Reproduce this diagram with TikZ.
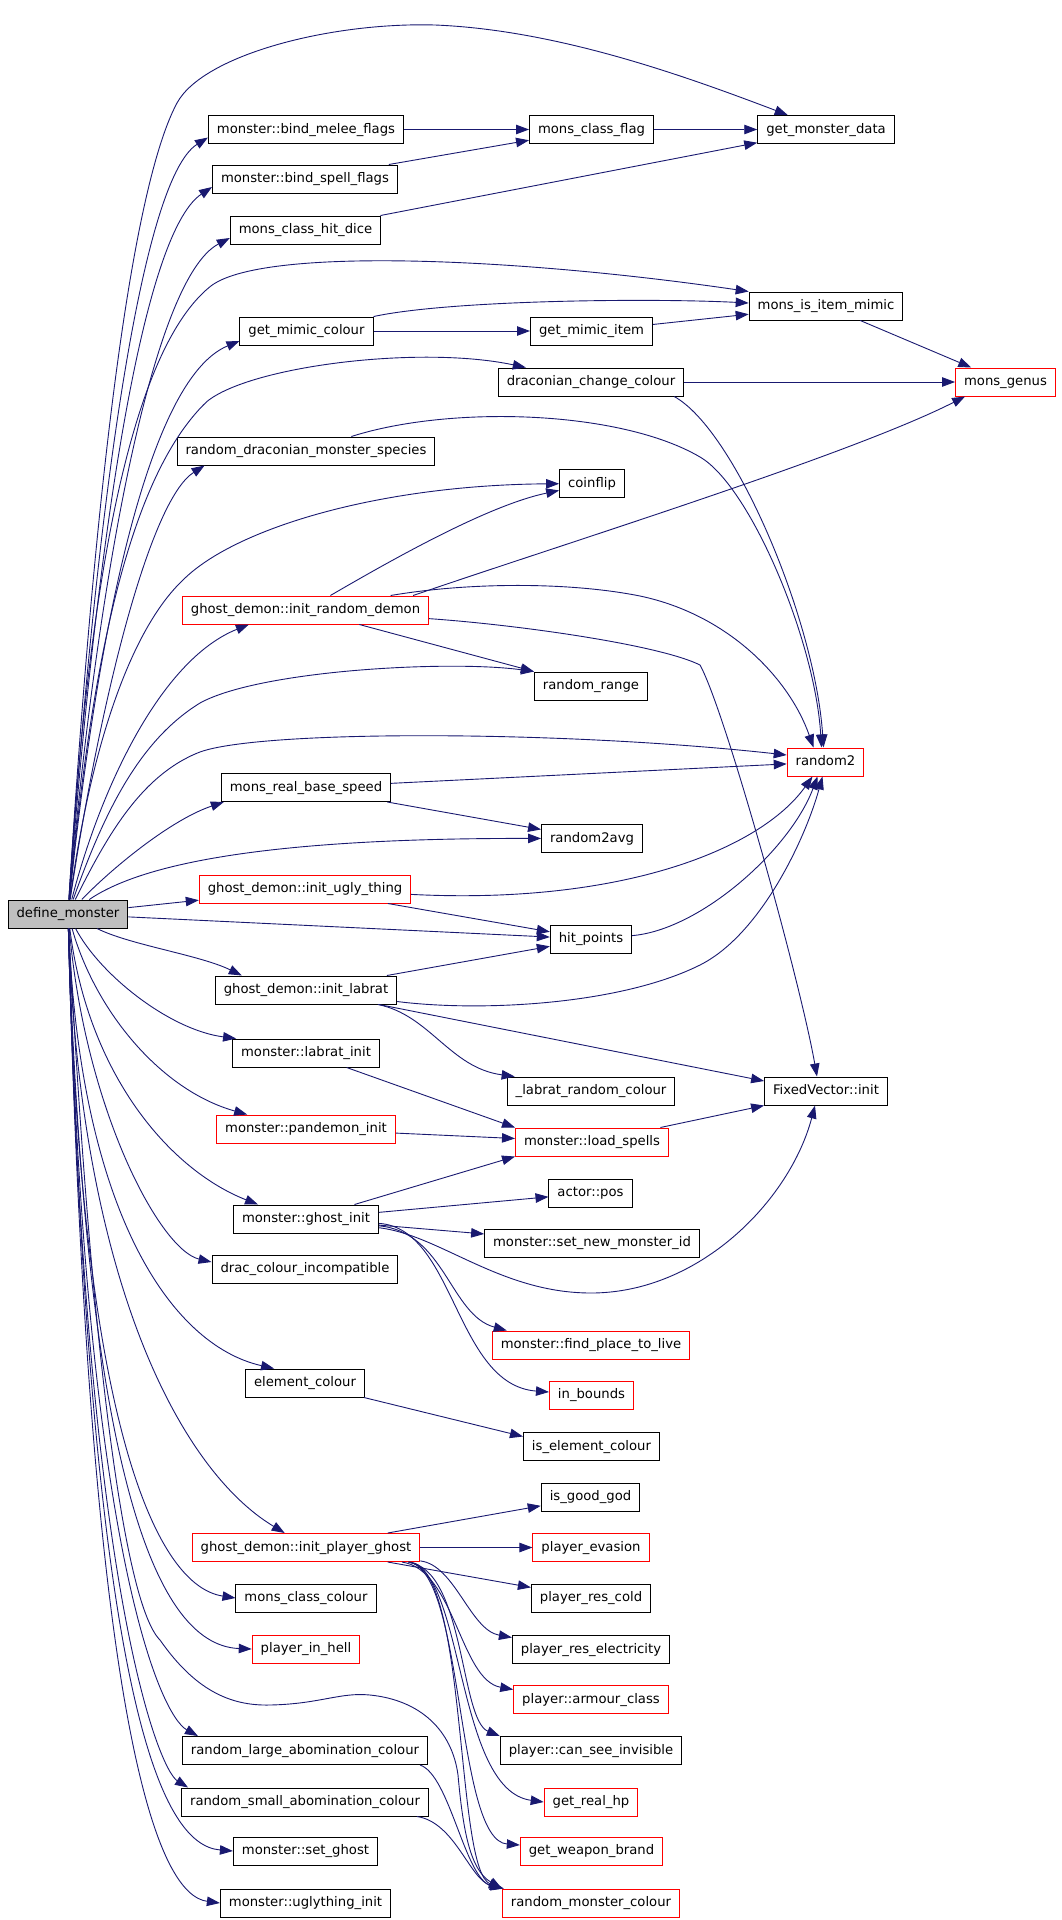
\documentclass[tikz,border=0pt]{standalone}
\usepackage{fontspec}
\newfontfamily\graphfont{DejaVu Sans}
\usepackage{tikz}
\usetikzlibrary{arrows.meta}
\definecolor{edgeblue}{HTML}{191970}
\definecolor{rootgrey}{HTML}{BFBFBF}
\tikzset{
    fn/.style={draw=black, line width=1pt, minimum height=28pt, inner xsep=8.5pt, inner ysep=0pt,
        text height=10pt, text depth=3pt, font=\graphfont\fontsize{13.2pt}{15pt}\selectfont},
    fnext/.style={fn, draw=red},
    fnroot/.style={fn, fill=rootgrey},
    callarrow/.style={draw=edgeblue, line width=0.9pt, -{Triangle[length=13pt,width=9.5pt]}}
}
\begin{document}
\begin{tikzpicture}[x=1pt,y=-1pt]
	\useasboundingbox (0,0) rectangle (1061,1920);
	\node[fnroot] (dm) at (68,914) {define\_monster};
	% first column
	\node[fn] (bm) at (306,129.5) {monster::bind\_melee\_flags};
	\node[fn] (bs) at (305,179) {monster::bind\_spell\_flags};
	\node[fn] (hd) at (305.5,230) {mons\_class\_hit\_dice};
	\node[fn] (gmc) at (306.5,331) {get\_mimic\_colour};
	\node[fn] (rdms) at (306,451) {random\_draconian\_monster\_species};
	\node[fnext] (ird) at (305.5,610) {ghost\_demon::init\_random\_demon};
	\node[fn] (mrbs) at (306,787.5) {mons\_real\_base\_speed};
	\node[fnext] (iut) at (305,889) {ghost\_demon::init\_ugly\_thing};
	\node[fn] (ilr) at (306,990) {ghost\_demon::init\_labrat};
	\node[fn] (lbi) at (306,1053) {monster::labrat\_init};
	\node[fnext] (pdi) at (306,1129) {monster::pandemon\_init};
	\node[fn] (gi) at (306,1219) {monster::ghost\_init};
	\node[fn] (dci) at (305,1269) {drac\_colour\_incompatible};
	\node[fn] (ec) at (305,1383) {element\_colour};
	\node[fnext] (ipg) at (306,1547.5) {ghost\_demon::init\_player\_ghost};
	\node[fn] (mcc) at (306,1598) {mons\_class\_colour};
	\node[fnext] (pih) at (306,1649) {player\_in\_hell};
	\node[fn] (rla) at (305,1750.5) {random\_large\_abomination\_colour};
	\node[fn] (rsa) at (305,1802) {random\_small\_abomination\_colour};
	\node[fn] (sg) at (305.5,1851) {monster::set\_ghost};
	\node[fn] (ugi) at (305.5,1903) {monster::uglything\_init};
	% second column
	\node[fn] (mcf) at (591.5,129.5) {mons\_class\_flag};
	\node[fn] (gmi) at (591.5,331) {get\_mimic\_item};
	\node[fn] (dcc) at (591,382) {draconian\_change\_colour};
	\node[fn] (cf) at (592,483.5) {coinflip};
	\node[fn] (rr) at (591,686) {random\_range};
	\node[fn] (r2a) at (592,838.5) {random2avg};
	\node[fn] (hp) at (591,939) {hit\_points};
	\node[fn] (lrc) at (591,1091) {\_labrat\_random\_colour};
	\node[fnext] (ls) at (592,1142) {monster::load\_spells};
	\node[fn] (pos) at (590.5,1193) {actor::pos};
	\node[fn] (snm) at (592,1243) {monster::set\_new\_monster\_id};
	\node[fnext] (fpl) at (591,1345) {monster::find\_place\_to\_live};
	\node[fnext] (ib) at (591.5,1395) {in\_bounds};
	\node[fn] (iec) at (591.5,1446.5) {is\_element\_colour};
	\node[fn] (igg) at (590.5,1497) {is\_good\_god};
	\node[fnext] (pe) at (591,1547.5) {player\_evasion};
	\node[fn] (prc) at (591,1598) {player\_res\_cold};
	\node[fn] (pre) at (591,1649.5) {player\_res\_electricity};
	\node[fnext] (pac) at (591,1699.5) {player::armour\_class};
	\node[fn] (csi) at (591,1750.5) {player::can\_see\_invisible};
	\node[fnext] (grh) at (591,1802) {get\_real\_hp};
	\node[fnext] (gwb) at (591.5,1851) {get\_weapon\_brand};
	\node[fnext] (rmc) at (591,1903) {random\_monster\_colour};
	% third and fourth column
	\node[fn] (gmd) at (826,129.5) {get\_monster\_data};
	\node[fn] (mim) at (826,306) {mons\_is\_item\_mimic};
	\node[fnext] (r2) at (825.5,762) {random2};
	\node[fn] (fv) at (826,1091) {FixedVector::init};
	\node[fnext] (mg) at (1005.5,382) {mons\_genus};

	% calls going up from define_monster
	\draw[callarrow] (dm) .. controls (90,560) and (125,200) .. (177,103) .. controls (203,55) and (330,22) .. (435,25) .. controls (560,30) and (690,78) .. (gmd);
	\draw[callarrow] (dm) .. controls (95,520) and (140,180) .. ([yshift=-8pt]bm.west);
	\draw[callarrow] (dm) .. controls (95,560) and (140,235) .. ([yshift=-8pt]bs.west);
	\draw[callarrow] (dm) .. controls (95,600) and (150,280) .. ([yshift=-8pt]hd.west);
	\draw[callarrow] (dm) .. controls (85,640) and (120,360) .. (210,286.7) .. controls (260,246) and (520,258) .. (mim.north west);
	\draw[callarrow] (dm) .. controls (95,650) and (145,380) .. ([yshift=-10pt]gmc.west);
	\draw[callarrow] (dm) .. controls (90,680) and (125,480) .. (206.7,401.7) .. controls (250,366) and (420,345) .. ([xshift=28pt]dcc.north west);
	\draw[callarrow] (dm) .. controls (100,700) and (150,500) .. ([xshift=28pt]rdms.south west);
	\draw[callarrow] (dm) .. controls (90,750) and (130,630) .. (183,580) .. controls (235,528) and (380,485) .. (cf);
	\draw[callarrow] (dm) .. controls (100,790) and (160,660) .. ([xshift=67pt]ird.south west);
	\draw[callarrow] (dm) .. controls (105,810) and (140,740) .. (200,703) .. controls (260,670) and (450,660) .. (rr.north west);
	\draw[callarrow] (dm) .. controls (105,840) and (140,775) .. (200,752) .. controls (260,730) and (560,730) .. ([yshift=7pt]r2.west);
	\draw[callarrow] (dm) .. controls (110,870) and (170,820) .. ([xshift=3pt]mrbs.south west);
	\draw[callarrow] (dm) .. controls (140,865) and (260,838) .. (r2a);
	\draw[callarrow] (dm) -- (iut);
	\draw[callarrow] (dm) -- (hp);
	% calls going down from define_monster
	\draw[callarrow] (dm) .. controls (130,945) and (200,955) .. ([xshift=27pt]ilr.north west);
	\draw[callarrow] (dm) .. controls (100,975) and (170,1030) .. ([xshift=4pt]lbi.north west);
	\draw[callarrow] (dm) .. controls (95,1010) and (160,1090) .. ([xshift=31pt]pdi.north west);
	\draw[callarrow] (dm) .. controls (88,1075) and (170,1170) .. ([xshift=25pt]gi.north west);
	\draw[callarrow] (dm) .. controls (85,1110) and (160,1250) .. ([yshift=7pt]dci.west);
	\draw[callarrow] (dm) .. controls (80,1210) and (170,1345) .. ([xshift=29pt]ec.north west);
	\draw[callarrow] (dm) .. controls (80,1280) and (180,1470) .. ([xshift=93pt]ipg.north west);
	\draw[callarrow] (dm) .. controls (80,1400) and (150,1585) .. (mcc.west);
	\draw[callarrow] (dm) .. controls (85,1450) and (150,1645) .. (pih.west);
	\draw[callarrow] (dm) .. controls (88,1300) and (120,1600) .. (160,1640) .. controls (195,1690) and (230,1706) .. (270,1705) .. controls (320,1704) and (340,1692) .. (370,1695) .. controls (420,1700) and (452,1730) .. (458,1775) .. controls (463,1830) and (470,1870) .. (rmc.north west);
	\draw[callarrow] (dm) .. controls (85,1550) and (160,1715) .. ([xshift=16pt]rla.north west);
	\draw[callarrow] (dm) .. controls (85,1600) and (160,1770) .. ([xshift=7pt]rsa.north west);
	\draw[callarrow] (dm) .. controls (90,1700) and (160,1845) .. (sg.west);
	\draw[callarrow] (dm) .. controls (90,1750) and (160,1895) .. (ugi.west);

	\draw[callarrow] (bm) -- (mcf);
	\draw[callarrow] (bs) -- (mcf);
	\draw[callarrow] (mcf) -- (gmd);
	\draw[callarrow] (hd) -- (gmd);
	\draw[callarrow] (gmc) .. controls (450,300) and (650,298) .. ([yshift=3pt]mim.west);
	\draw[callarrow] (gmc) -- (gmi);
	\draw[callarrow] (gmi) -- (mim);
	\draw[callarrow] (mim) -- (mg);
	\draw[callarrow] (dcc) -- (mg);
	\draw[callarrow] ([xshift=-10pt]dcc.south east) .. controls (735,430) and (815,620) .. ([xshift=-2pt]r2.north);
	\draw[callarrow] (rdms) .. controls (450,405) and (620,410) .. (700,457) .. controls (750,486) and (815,640) .. ([xshift=-4pt]r2.north);
	\draw[callarrow] (ird) .. controls (400,555) and (490,505) .. (cf);
	\draw[callarrow] ([xshift=-16pt]ird.north east) .. controls (560,545) and (850,455) .. ([xshift=10pt]mg.south west);
	\draw[callarrow] (ird) .. controls (470,582) and (570,582) .. (640,596) .. controls (730,615) and (790,680) .. ([xshift=-12pt]r2.north);
	\draw[callarrow] (ird) -- (rr.north west);
	\draw[callarrow] (ird) .. controls (520,625) and (660,645) .. (700,665) .. controls (725,710) and (800,980) .. ([xshift=-9pt]fv.north);
	\draw[callarrow] (mrbs) -- (r2);
	\draw[callarrow] (mrbs) -- (r2a);
	\draw[callarrow] (iut) .. controls (620,905) and (760,850) .. ([xshift=-13pt]r2.south);
	\draw[callarrow] (iut) -- (hp);
	\draw[callarrow] (hp) .. controls (700,930) and (790,850) .. ([xshift=-8pt]r2.south);
	\draw[callarrow] (ilr) -- (hp);
	\draw[callarrow] (ilr) .. controls (480,1012) and (620,1005) .. (700,965) .. controls (760,935) and (805,840) .. ([xshift=-3pt]r2.south);
	\draw[callarrow] (ilr) .. controls (430,1015) and (450,1068) .. ([xshift=8pt]lrc.north west);
	\draw[callarrow] (ilr) -- ([yshift=10pt]fv.west);
	\draw[callarrow] (lbi) -- (ls.north west);
	\draw[callarrow] (pdi) -- (ls);
	\draw[callarrow] (gi) -- (ls.south west);
	\draw[callarrow] (ls) -- (fv.south west);
	\draw[callarrow] (gi) -- (pos);
	\draw[callarrow] (gi) -- (snm);
	\draw[callarrow] (gi) .. controls (440,1235) and (500,1293) .. (591,1293) .. controls (700,1293) and (790,1200) .. ([xshift=-11pt]fv.south);
	\draw[callarrow] (gi) .. controls (445,1232) and (450,1315) .. ([xshift=15pt]fpl.north west);
	\draw[callarrow] (gi) .. controls (455,1228) and (455,1385) .. ([yshift=3pt]ib.west);
	\draw[callarrow] (ec) -- ([yshift=10pt]iec.west);
	\draw[callarrow] (ipg) -- (igg);
	\draw[callarrow] (ipg) -- (pe);
	\draw[callarrow] (ipg) -- (prc);
	\draw[callarrow] (ipg) .. controls (455,1565) and (470,1630) .. ([yshift=12pt]pre.west);
	\draw[callarrow] (ipg) .. controls (455,1570) and (460,1680) .. ([yshift=10pt]pac.west);
	\draw[callarrow] (ipg) .. controls (465,1570) and (460,1720) .. (csi.north west);
	\draw[callarrow] (ipg) .. controls (465,1570) and (455,1790) .. (grh.west);
	\draw[callarrow] (ipg) .. controls (465,1570) and (455,1840) .. ([yshift=6pt]gwb.west);
	\draw[callarrow] (ipg) .. controls (468,1570) and (455,1870) .. (rmc.north west);
	\draw[callarrow] ([xshift=-8pt]rla.south east) .. controls (450,1775) and (465,1880) .. ([xshift=2pt]rmc.north west);
	\draw[callarrow] ([xshift=-12pt]rsa.south east) .. controls (455,1822) and (470,1880) .. ([xshift=1pt]rmc.north west);
\end{tikzpicture}
\end{document}
